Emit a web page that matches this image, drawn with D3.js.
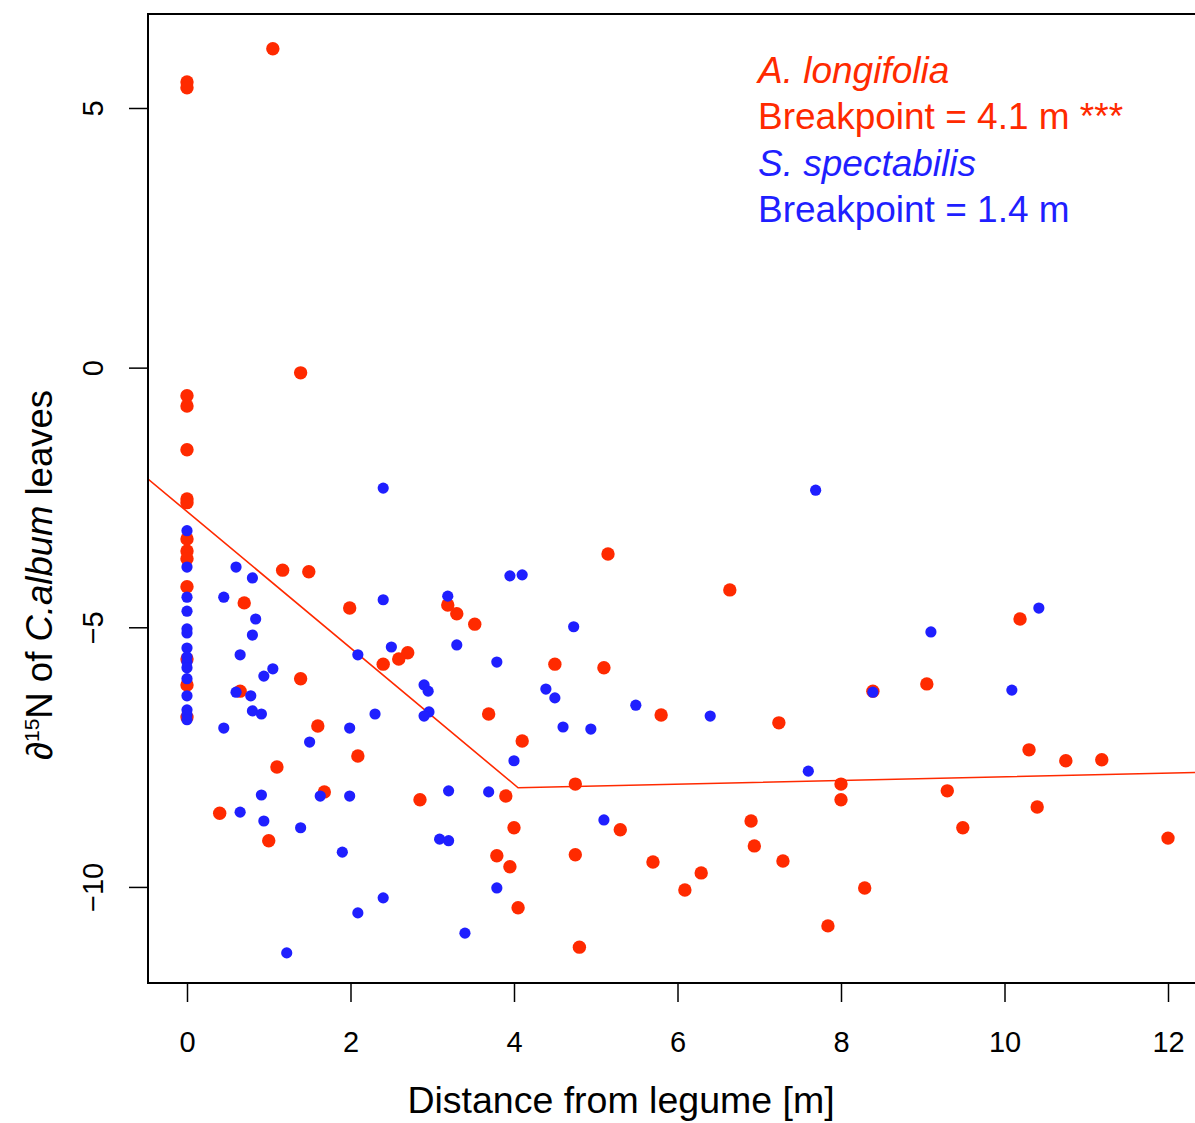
<!DOCTYPE html>
<html>
<head>
<meta charset="utf-8">
<script src="https://cdn.jsdelivr.net/npm/d3@7"></script>
<style>
  body { margin: 0; background: #fff; }
  svg { display: block; font-family: "Liberation Sans", Arial, Helvetica, sans-serif; }
</style>
</head>
<body>
<svg width="1195" height="1123"></svg>
<script>
// A. longifolia (red)
var longifoliaDist = [0, 0, 1.05, 0, 0, 0, 0, 0, 0, 0, 0, 0, 0, 0, 0,
  1.39, 1.17, 1.49, 0.70, 1.99, 3.19, 3.30, 3.52, 2.70, 2.59, 2.40, 0.65, 1.39, 1.60, 2.09,
  1.10, 1.68, 0.40, 1.00, 2.85, 3.69, 4.10, 3.90, 4.00, 3.79, 3.95, 4.05, 5.15, 6.64, 4.50,
  5.10, 5.80, 7.24, 4.75, 5.30, 4.75, 5.70, 6.29, 6.09, 6.90, 6.94, 7.29, 7.84, 4.80, 8.00,
  8.00, 10.19, 8.39, 9.05, 10.30, 10.75, 11.19, 9.30, 10.40, 9.49, 12.00, 8.29];
var longifoliaN15 = [5.50, 5.39, 6.14, -0.54, -0.74, -1.58, -2.53, -2.60, -3.30, -3.53, -3.68, -4.22, -5.61, -6.11, -6.73,
  -0.10, -3.90, -3.93, -4.53, -4.63, -4.57, -4.74, -4.94, -5.49, -5.61, -5.71, -6.23, -5.99, -6.90, -7.48,
  -7.69, -8.17, -8.58, -9.11, -8.32, -6.67, -7.19, -8.25, -8.86, -9.40, -9.61, -10.40, -3.59, -4.28, -5.71,
  -5.78, -6.69, -6.84, -8.02, -8.90, -9.38, -9.52, -9.73, -10.06, -8.73, -9.21, -9.50, -10.75, -11.16, -8.02,
  -8.32, -4.84, -6.23, -6.09, -7.36, -7.57, -7.55, -8.15, -8.46, -8.86, -9.06, -10.02];

// S. spectabilis (blue)
var spectabilisDist = [0, 0, 0, 0, 0, 0, 0, 0, 0, 0, 0, 0, 0, 0, 0,
  2.40, 0.60, 0.80, 0.45, 2.40, 3.19, 3.95, 4.10, 0.84, 0.80, 2.50, 3.30, 0.65, 2.09, 3.79,
  0.94, 1.05, 0.60, 0.78, 0.80, 0.91, 0.45, 1.99, 2.30, 2.90, 2.95, 2.96, 2.90, 1.50, 4.00,
  0.91, 1.63, 1.99, 3.20, 3.69, 0.65, 0.94, 1.39, 1.90, 3.09, 3.20, 3.79, 2.40, 2.09, 3.40,
  1.22, 7.69, 4.73, 4.39, 4.50, 4.60, 4.94, 5.49, 6.40, 7.60, 5.10, 10.42, 9.10, 8.39, 10.09];
var spectabilisN15 = [-3.14, -3.84, -4.42, -4.69, -5.03, -5.11, -5.40, -5.57, -5.67, -5.78, -5.99, -6.32, -6.59, -6.69, -6.78,
  -2.32, -3.84, -4.05, -4.42, -4.47, -4.40, -4.01, -3.99, -4.84, -5.15, -5.38, -5.34, -5.53, -5.53, -5.67,
  -5.94, -5.80, -6.25, -6.32, -6.61, -6.67, -6.94, -6.94, -6.67, -6.11, -6.23, -6.63, -6.71, -7.21, -7.57,
  -8.23, -8.25, -8.25, -8.15, -8.17, -8.56, -8.73, -8.86, -9.33, -9.08, -9.11, -10.02, -10.21, -10.50, -10.89,
  -11.27, -2.36, -4.99, -6.19, -6.36, -6.92, -6.96, -6.50, -6.71, -7.77, -8.71, -4.63, -5.09, -6.25, -6.21];

// segmented fit for A. longifolia
var fitX = [-0.48, 4.05, 12.48];
var fitY = [-2.14, -8.09, -7.79];

var xTicks = [0, 2, 4, 6, 8, 10, 12];
var yTicks = [-10, -5, 0, 5];

var legendLabels = ['A. longifolia', 'Breakpoint = 4.1 m ***', 'S. spectabilis', 'Breakpoint = 1.4 m'];
var legendItalic = [true, false, true, false];
var legendColors = ['#ff2a00', '#ff2a00', '#1f1fff', '#1f1fff'];

var red = '#ff2a00', blue = '#1f1fff';
var fontFam = '"Liberation Sans", Arial, Helvetica, sans-serif';

var svg = d3.select('svg');
svg.append('rect').attr('width', 1195).attr('height', 1123).attr('fill', '#fff');

var plotL = 148, plotR = 1207, plotT = 14, plotB = 983;

var xScale = d3.scaleLinear().domain([-0.477, 12.477]).range([plotL, plotR]);
var yScale = d3.scaleLinear().domain([-11.85, 6.81]).range([plotB, plotT]);

var redPts = longifoliaDist.map((d, i) => ({x: d, y: longifoliaN15[i]}));
var bluePts = spectabilisDist.map((d, i) => ({x: d, y: spectabilisN15[i]}));

svg.append('clipPath').attr('id', 'plotclip')
  .append('rect').attr('x', plotL).attr('y', plotT).attr('width', plotR - plotL).attr('height', plotB - plotT);

var plot = svg.append('g').attr('clip-path', 'url(#plotclip)');

var line = d3.line().x(d => xScale(d[0])).y(d => yScale(d[1]));
plot.append('path')
  .datum(fitX.map((d, i) => [d, fitY[i]]))
  .attr('d', line)
  .attr('fill', 'none')
  .attr('stroke', red)
  .attr('stroke-width', 1.6);

plot.selectAll('.red')
  .data(redPts)
  .enter()
  .append('circle')
  .attr('class', 'red')
  .attr('cx', d => xScale(d.x))
  .attr('cy', d => yScale(d.y))
  .attr('r', 6.7)
  .attr('fill', red);

plot.selectAll('.blue')
  .data(bluePts)
  .enter()
  .append('circle')
  .attr('class', 'blue')
  .attr('cx', d => xScale(d.x))
  .attr('cy', d => yScale(d.y))
  .attr('r', 5.6)
  .attr('fill', blue);

// axes
var xAxis = svg.append('g')
  .attr('transform', `translate(0, ${plotB})`)
  .call(d3.axisBottom(xScale).tickValues(xTicks).tickSize(19).tickSizeOuter(0).tickFormat(d3.format('d')));
xAxis.select('.domain').remove();
xAxis.selectAll('line').attr('stroke-width', 1.5);
xAxis.selectAll('text')
  .attr('y', 69)
  .attr('dy', 0)
  .attr('font-size', 29)
  .attr('font-family', fontFam)
  .attr('fill', '#000');

var yAxis = svg.append('g')
  .attr('transform', `translate(${plotL}, 0)`)
  .call(d3.axisLeft(yScale).tickValues(yTicks).tickSize(19).tickSizeOuter(0)
    .tickFormat(d => d < 0 ? '\u2212' + Math.abs(d) : d));
yAxis.select('.domain').remove();
yAxis.selectAll('line').attr('stroke-width', 1.5);
yAxis.selectAll('text')
  .attr('transform', 'rotate(-90)')
  .attr('x', 0)
  .attr('y', -45)
  .attr('dy', 0)
  .style('text-anchor', 'middle')
  .attr('font-size', 29)
  .attr('font-family', fontFam)
  .attr('fill', '#000');

// frame
svg.append('rect')
  .attr('x', plotL).attr('y', plotT)
  .attr('width', plotR - plotL).attr('height', plotB - plotT)
  .attr('fill', 'none')
  .attr('stroke', '#000')
  .attr('stroke-width', 2);

// axis titles
svg.append('text')
  .attr('x', 621)
  .attr('y', 1113)
  .attr('text-anchor', 'middle')
  .attr('font-size', 37.5)
  .text('Distance from legume [m]');

var yt = svg.append('text')
  .attr('transform', 'translate(52, 575) rotate(-90)')
  .attr('text-anchor', 'middle')
  .attr('font-size', 36.5);
yt.append('tspan').text('\u2202');
yt.append('tspan').attr('font-size', 21).attr('dy', -13).text('15');
yt.append('tspan').attr('dy', 13).text('N of ');
yt.append('tspan').attr('font-style', 'italic').text('C.album');
yt.append('tspan').text(' leaves');

// legend text
svg.selectAll('.legend')
  .data(legendLabels)
  .enter()
  .append('text')
  .attr('class', 'legend')
  .attr('x', 758)
  .attr('y', (d, i) => 83 + i * 46.3)
  .attr('font-size', 37)
  .attr('font-style', (d, i) => legendItalic[i] ? 'italic' : 'normal')
  .attr('fill', (d, i) => legendColors[i])
  .text(d => d);
</script>
</body>
</html>
